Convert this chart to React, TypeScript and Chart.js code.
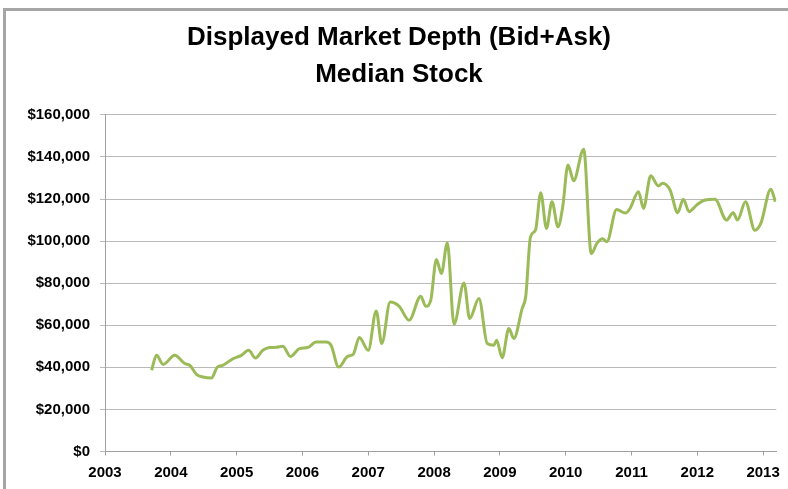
import React, { useEffect, useRef } from "react";
import { Chart, registerables } from "chart.js";

Chart.register(...registerables);

const TITLE_LINES = ["Displayed Market Depth (Bid+Ask)", "Median Stock"];

// Decimal year of each read point
const years = [
  2003.708, 2003.783, 2003.883, 2004.061, 2004.212, 2004.288, 2004.389, 2004.489,
  2004.617, 2004.702, 2004.792, 2004.944, 2005.071, 2005.182, 2005.288, 2005.398,
  2005.5, 2005.602, 2005.702, 2005.818, 2005.955, 2006.08, 2006.208, 2006.359,
  2006.435, 2006.55, 2006.686, 2006.773, 2006.864, 2007.0, 2007.121, 2007.205,
  2007.333, 2007.47, 2007.621, 2007.798, 2007.874, 2007.95, 2008.035, 2008.111,
  2008.202, 2008.303, 2008.455, 2008.541, 2008.682, 2008.808, 2008.909, 2008.95,
  2009.035, 2009.136, 2009.212, 2009.338, 2009.394, 2009.465, 2009.541, 2009.621,
  2009.708, 2009.792, 2009.883, 2009.955, 2010.035, 2010.121, 2010.273, 2010.389,
  2010.474, 2010.561, 2010.626, 2010.773, 2010.905, 2010.98, 2011.106, 2011.182,
  2011.292, 2011.409, 2011.47, 2011.586, 2011.702, 2011.788, 2011.874, 2011.989,
  2012.117, 2012.268, 2012.444, 2012.545, 2012.611, 2012.732, 2012.874, 2012.965,
  2013.117, 2013.186,
];

// Displayed depth (USD)
const depth = [
  38600, 45700, 41400, 45700, 41800, 41000, 36700, 35400,
  34900, 39900, 41000, 44100, 45700, 48100, 44400, 48100,
  49400, 49500, 50000, 45200, 48900, 49400, 52000, 52000,
  50500, 40100, 45200, 46200, 54200, 48100, 66800, 51300,
  71000, 69000, 62400, 73800, 69000, 71900, 91300, 84600,
  99200, 60500, 80100, 63200, 72700, 51300, 50500, 52900,
  44600, 58400, 53700, 67900, 74000, 102000, 105200, 123000,
  106000, 118700, 106800, 116300, 136200, 128700, 143700, 94100,
  98900, 101100, 99700, 115000, 113300, 115600, 123500, 115600,
  131000, 126200, 127500, 124300, 113500, 119900, 114000, 117100,
  119500, 119900, 110000, 113500, 110000, 118700, 105200, 108400,
  124600, 118700,
];

const X_MIN = 2003;
const X_MAX = 2013.2;
const Y_MAX = 160000;
const Y_STEP = 20000;

const FONT = "'Liberation Sans', Arial, sans-serif";

export default function App() {
  const ref = useRef<HTMLCanvasElement | null>(null);

  useEffect(() => {
    if (!ref.current) return;
    const chart = new Chart(ref.current, {
      type: "line",
      data: {
        datasets: [
          {
            data: years.map((x, i) => ({ x, y: depth[i] })),
            borderColor: "#9bbb59",
            borderWidth: 3,
            pointRadius: 0,
            cubicInterpolationMode: "monotone",
            fill: false,
          },
        ],
      },
      options: {
        animation: false,
        responsive: false,
        devicePixelRatio: 1,
        layout: { padding: { left: 20, right: 10, top: 0, bottom: 0 } },
        plugins: {
          legend: { display: false },
          tooltip: { enabled: false },
          title: {
            display: true,
            text: TITLE_LINES,
            color: "#000",
            font: { family: FONT, size: 26, weight: "bold", lineHeight: 1.42 },
            padding: { top: 19, bottom: 22 },
          },
        },
        scales: {
          x: {
            type: "linear",
            min: X_MIN,
            max: X_MAX,
            afterFit: (s: any) => {
              s.height = 37.5;
            },
            afterBuildTicks: (s: any) => {
              const t = [];
              for (let y = X_MIN; y <= Math.floor(X_MAX); y++) t.push({ value: y });
              s.ticks = t;
            },
            grid: {
              drawOnChartArea: false,
              drawTicks: true,
              tickLength: 4,
              color: "#a0a0a0",
            },
            border: { display: true, color: "#a0a0a0", width: 1 },
            ticks: {
              color: "#000",
              padding: 8,
              maxRotation: 0,
              autoSkip: false,
              font: { family: FONT, size: 15, weight: "bold" },
              callback: (v: any) => String(v),
            },
          },
          y: {
            min: 0,
            max: Y_MAX,
            afterFit: (s: any) => {
              s.width = 85;
            },
            grid: {
              color: "#bababa",
              lineWidth: 1,
              tickLength: 5,
            },
            border: { display: true, color: "#a0a0a0", width: 1 },
            ticks: {
              stepSize: Y_STEP,
              color: "#000",
              padding: 10,
              font: { family: FONT, size: 15, weight: "bold" },
              callback: (v: any) => "$" + Number(v).toLocaleString("en-US"),
            },
          },
        },
      },
    });
    return () => chart.destroy();
  }, []);

  return (
    <div
      style={{
        position: "absolute",
        left: 0,
        top: 0,
        width: 788,
        height: 489,
        overflow: "hidden",
        background: "#fff",
      }}
    >
      <div
        style={{
          position: "absolute",
          left: 3,
          top: 8,
          width: 820,
          height: 520,
          border: "3px solid #a6a6a6",
        }}
      />
      <canvas
        ref={ref}
        width={788}
        height={489}
        style={{ position: "absolute", left: 0, top: 0, width: 788, height: 489 }}
      />
    </div>
  );
}
